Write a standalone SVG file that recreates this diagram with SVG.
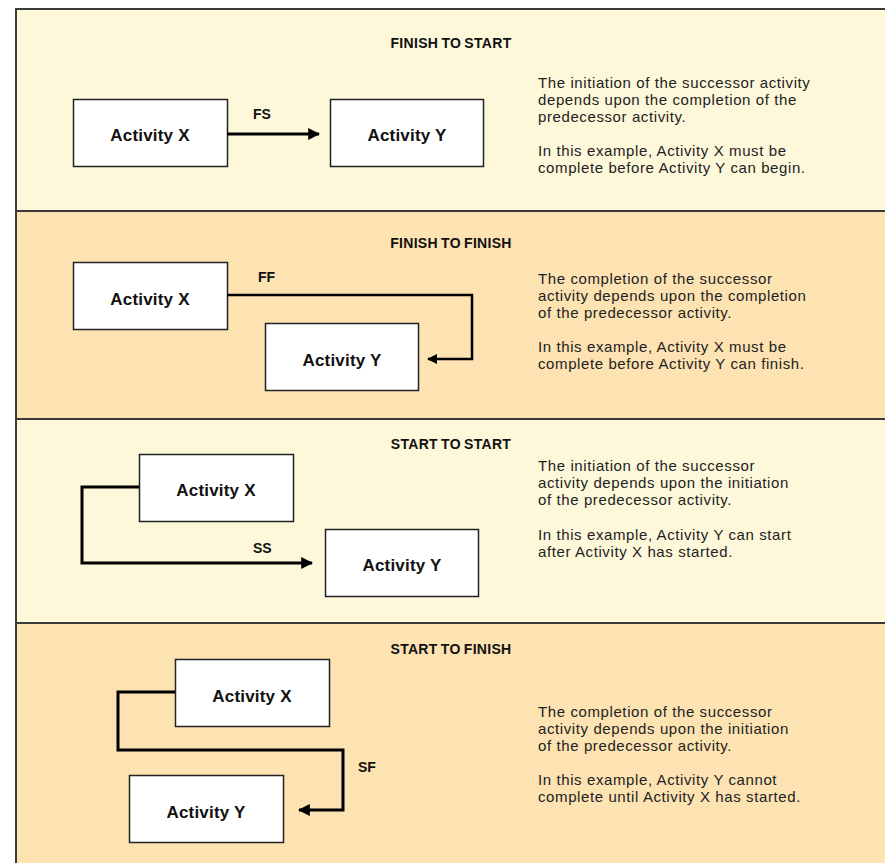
<svg xmlns="http://www.w3.org/2000/svg" width="885" height="863" viewBox="0 0 885 863">
<defs>
<style>
.p1{fill:#fef8da}
.p2{fill:#fde2b2}
.sep{stroke:#3a3a3a;stroke-width:2;fill:none}
.box{fill:#ffffff;stroke:#222;stroke-width:1.5}
.lbl{font-family:"Liberation Sans",Arial,sans-serif;font-weight:bold;font-size:17px;letter-spacing:0.2px;fill:#111;text-anchor:middle}
.ttl{font-family:"Liberation Sans",Arial,sans-serif;font-weight:bold;font-size:14px;letter-spacing:0.3px;word-spacing:-1px;fill:#111;text-anchor:middle}
.tag{font-family:"Liberation Sans",Arial,sans-serif;font-weight:bold;font-size:14px;fill:#111}
.desc{font-family:"Liberation Sans",Arial,sans-serif;font-size:15px;letter-spacing:0.6px;fill:#222}
.con{stroke:#000;stroke-width:3;fill:none}
</style>
<marker id="ah" viewBox="0 0 10 10" refX="9" refY="5" markerWidth="4" markerHeight="4" orient="auto" markerUnits="strokeWidth">
<path d="M0,0 L10,5 L0,10 Z" fill="#000"/>
</marker>
</defs>
<rect x="0" y="0" width="885" height="863" fill="#ffffff"/>
<rect class="p1" x="16" y="9" width="869" height="202"/>
<rect class="p2" x="16" y="211" width="869" height="208"/>
<rect class="p1" x="16" y="419" width="869" height="204"/>
<rect class="p2" x="16" y="623" width="869" height="240"/>
<path class="sep" d="M885,9 H16 V863"/>
<line class="sep" x1="16" y1="211" x2="885" y2="211"/>
<line class="sep" x1="16" y1="419" x2="885" y2="419"/>
<line class="sep" x1="16" y1="623" x2="885" y2="623"/>

<g id="panel-fs">
<text class="ttl" x="451" y="48">FINISH TO START</text>
<text class="desc" x="538" y="88">The initiation of the successor activity</text>
<text class="desc" x="538" y="105">depends upon the completion of the</text>
<text class="desc" x="538" y="122">predecessor activity.</text>
<text class="desc" x="538" y="156">In this example, Activity X must be</text>
<text class="desc" x="538" y="173">complete before Activity Y can begin.</text>
</g>
<g id="fs-x"><rect class="box" x="73.5" y="99.5" width="154" height="67"/><text class="lbl" x="150" y="141">Activity X</text></g>
<g id="fs-y"><rect class="box" x="330.5" y="99.5" width="153" height="67"/><text class="lbl" x="407" y="141">Activity Y</text></g>

<g id="panel-ff">
<text class="ttl" x="451" y="248">FINISH TO FINISH</text>
<text class="desc" x="538" y="284">The completion of the successor</text>
<text class="desc" x="538" y="301">activity depends upon the completion</text>
<text class="desc" x="538" y="318">of the predecessor activity.</text>
<text class="desc" x="538" y="352">In this example, Activity X must be</text>
<text class="desc" x="538" y="369">complete before Activity Y can finish.</text>
</g>
<g id="ff-x"><rect class="box" x="73.5" y="262.5" width="154" height="67"/><text class="lbl" x="150" y="305">Activity X</text></g>
<g id="ff-y"><rect class="box" x="265.5" y="323.5" width="153" height="67"/><text class="lbl" x="342" y="366">Activity Y</text></g>

<g id="panel-ss">
<text class="ttl" x="451" y="449">START TO START</text>
<text class="desc" x="538" y="471">The initiation of the successor</text>
<text class="desc" x="538" y="488">activity depends upon the initiation</text>
<text class="desc" x="538" y="505">of the predecessor activity.</text>
<text class="desc" x="538" y="540">In this example, Activity Y can start</text>
<text class="desc" x="538" y="557">after Activity X has started.</text>
</g>
<g id="ss-x"><rect class="box" x="139.5" y="454.5" width="154" height="67"/><text class="lbl" x="216" y="496">Activity X</text></g>
<g id="ss-y"><rect class="box" x="325.5" y="529.5" width="153" height="67"/><text class="lbl" x="402" y="571">Activity Y</text></g>

<g id="panel-sf">
<text class="ttl" x="451" y="654">START TO FINISH</text>
<text class="desc" x="538" y="717">The completion of the successor</text>
<text class="desc" x="538" y="734">activity depends upon the initiation</text>
<text class="desc" x="538" y="751">of the predecessor activity.</text>
<text class="desc" x="538" y="785">In this example, Activity Y cannot</text>
<text class="desc" x="538" y="802">complete until Activity X has started.</text>
</g>
<g id="sf-x"><rect class="box" x="175.5" y="659.5" width="154" height="67"/><text class="lbl" x="252" y="702">Activity X</text></g>
<g id="sf-y"><rect class="box" x="129.5" y="775.5" width="154" height="67"/><text class="lbl" x="206" y="818">Activity Y</text></g>

<g id="connectors">
<path class="con" d="M227,134 H319" marker-end="url(#ah)"/>
<text class="tag" x="253" y="119">FS</text>
<path class="con" d="M227,295 H472 V359 H428" marker-end="url(#ah)" style="stroke-width:2.5"/>
<text class="tag" x="258" y="282">FF</text>
<path class="con" d="M139,487 H82 V563 H312" marker-end="url(#ah)"/>
<text class="tag" x="253" y="553">SS</text>
<path class="con" d="M175,692 H118 V750 H343 V810 H299" marker-end="url(#ah)"/>
<text class="tag" x="358" y="772">SF</text>
</g>
</svg>
